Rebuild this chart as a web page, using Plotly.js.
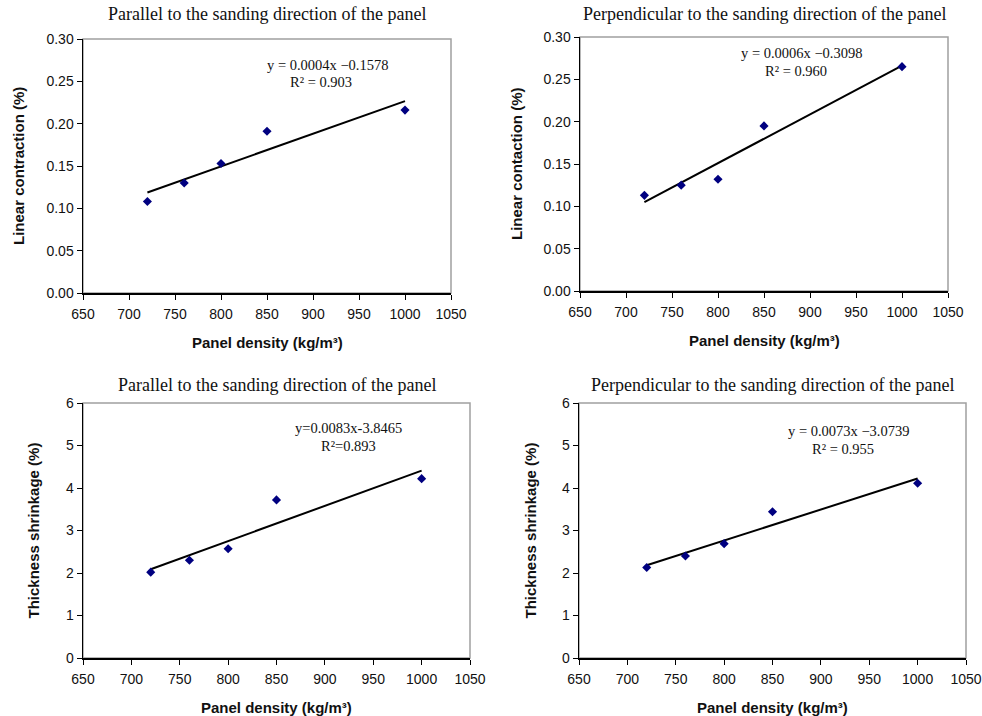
<!DOCTYPE html>
<html>
<head>
<meta charset="utf-8">
<script src="https://cdn.plot.ly/plotly-3.0.1.min.js"></script>
<style>html,body{margin:0;padding:0;background:#fff;}#chart{width:982px;height:716px;}</style>
</head>
<body>
<div id="chart"></div>
<script>
// ---- data ----
const density = [720, 760, 800, 850, 1000];
const linearParallel = [0.108, 0.130, 0.153, 0.191, 0.216];
const linearPerpendicular = [0.113, 0.125, 0.132, 0.195, 0.265];
const thicknessParallel = [2.02, 2.30, 2.57, 3.72, 4.22];
const thicknessPerpendicular = [2.13, 2.40, 2.69, 3.44, 4.11];

const titleParallel = "Parallel to the sanding direction of the panel";
const titlePerpendicular = "Perpendicular to the sanding direction of the panel";
const xTitle = "Panel density (kg/m³)";
const yTitles = ["Linear contraction (%)", "Linear contaction (%)", "Thickness shrinkage (%)", "Thickness shrinkage (%)"];
const equations = ["y = 0.0004x \u22120.1578", "y = 0.0006x \u22120.3098", "y=0.0083x-3.8465", "y = 0.0073x \u22123.0739"];
const rSquared = ["R\u00b2 = 0.903", "R\u00b2 = 0.960", "R\u00b2=0.893", "R\u00b2 = 0.955"];

function linfit(xs, ys) {
  const n = xs.length;
  const mx = xs.reduce((a, b) => a + b, 0) / n;
  const my = ys.reduce((a, b) => a + b, 0) / n;
  let sxy = 0, sxx = 0;
  for (let i = 0; i < n; i++) { sxy += (xs[i] - mx) * (ys[i] - my); sxx += (xs[i] - mx) ** 2; }
  const b = sxy / sxx, a = my - b * mx;
  const x0 = Math.min(...xs), x1 = Math.max(...xs);
  return { x: [x0, x1], y: [a + b * x0, a + b * x1] };
}

const W = 982, H = 716;
// plot areas in pixels: [left, right, top, bottom]
const boxes = [
  [83, 451, 39, 293],
  [580, 948, 37, 291],
  [83, 470, 403, 658],
  [579, 966, 403, 658]
];
const series = [linearParallel, linearPerpendicular, thicknessParallel, thicknessPerpendicular];
const titles = [titleParallel, titlePerpendicular, titleParallel, titlePerpendicular];
const eqPos = [[327, 65, 321, 82], [801, 53, 796, 71], [348, 428, 348, 446], [848, 431, 843, 449]];
const yTitleX = [18, 516, 33, 530];

const traces = [];
const layout = {
  width: W, height: H,
  margin: { l: 0, r: 0, t: 0, b: 0 },
  paper_bgcolor: "#fff", plot_bgcolor: "#fff",
  showlegend: false,
  annotations: [], shapes: []
};

const sans = "Liberation Sans, Arial, sans-serif";
const serif = "Liberation Serif, Times New Roman, serif";

series.forEach((ys, i) => {
  const k = i + 1;
  const xa = "x" + (k === 1 ? "" : k), ya = "y" + (k === 1 ? "" : k);
  const [l, r, t, b] = boxes[i];
  const fit = linfit(density, ys);
  traces.push({ x: fit.x, y: fit.y, xaxis: xa, yaxis: ya, mode: "lines", line: { color: "#000", width: 2 }, hoverinfo: "skip" });
  traces.push({ x: density, y: ys, xaxis: xa, yaxis: ya, mode: "markers", marker: { symbol: "diamond", size: 7, color: "#000080" } });
  const isLinear = i < 2;
  layout["xaxis" + (k === 1 ? "" : k)] = {
    domain: [l / W, r / W], anchor: ya, range: [650, 1050], dtick: 50, tick0: 650,
    showgrid: false, zeroline: false, showline: true, linecolor: "#000", linewidth: 1.5,
    ticks: "outside", ticklen: 5, tickcolor: "#000", tickwidth: 1, ticklabelstandoff: 3,
    tickfont: { family: sans, size: 14, color: "#111" }
  };
  layout["yaxis" + (k === 1 ? "" : k)] = {
    domain: [1 - b / H, 1 - t / H], anchor: xa,
    range: isLinear ? [0, 0.3] : [0, 6], dtick: isLinear ? 0.05 : 1, tickformat: isLinear ? ".2f" : "d",
    showgrid: false, zeroline: false, showline: true, linecolor: "#000", linewidth: 1.5,
    ticks: "outside", ticklen: 5, tickcolor: "#000", tickwidth: 1,
    tickfont: { family: sans, size: 14, color: "#111" }
  };
  // gray frame (top and right)
  layout.shapes.push({ type: "rect", xref: xa + " domain", yref: ya + " domain", x0: 0, x1: 1, y0: 0, y1: 1, line: { color: "#a0a0a0", width: 1.5 }, layer: "below" });
  // titles
  layout.annotations.push({ text: titles[i], xref: "paper", yref: "paper", x: ((l + r) / 2) / W, y: 1 - (isLinear ? 14 : 385) / H, showarrow: false, font: { family: serif, size: 18, color: "#111" }, xanchor: "center", yanchor: "middle" });
  // y axis title
  layout.annotations.push({ text: "<b>" + yTitles[i] + "</b>", xref: "paper", yref: "paper", x: yTitleX[i] / W, y: 1 - ((t + b) / 2) / H, textangle: -90, showarrow: false, font: { family: sans, size: 15, color: "#111" }, xanchor: "center", yanchor: "middle" });
  // x axis title
  layout.annotations.push({ text: "<b>" + xTitle + "</b>", xref: "paper", yref: "paper", x: ((l + r) / 2) / W, y: 1 - (b + 49) / H, showarrow: false, font: { family: sans, size: 15, color: "#111" }, xanchor: "center", yanchor: "middle" });
  // equation
  const p = eqPos[i];
  layout.annotations.push({ text: equations[i], xref: "paper", yref: "paper", x: p[0] / W, y: 1 - p[1] / H, showarrow: false, font: { family: serif, size: 14.5, color: "#111" }, xanchor: "center", yanchor: "middle" });
  layout.annotations.push({ text: rSquared[i], xref: "paper", yref: "paper", x: p[2] / W, y: 1 - p[3] / H, showarrow: false, font: { family: serif, size: 14.5, color: "#111" }, xanchor: "center", yanchor: "middle" });
});

Plotly.newPlot("chart", traces, layout, { staticPlot: true, displayModeBar: false });
</script>
</body>
</html>
